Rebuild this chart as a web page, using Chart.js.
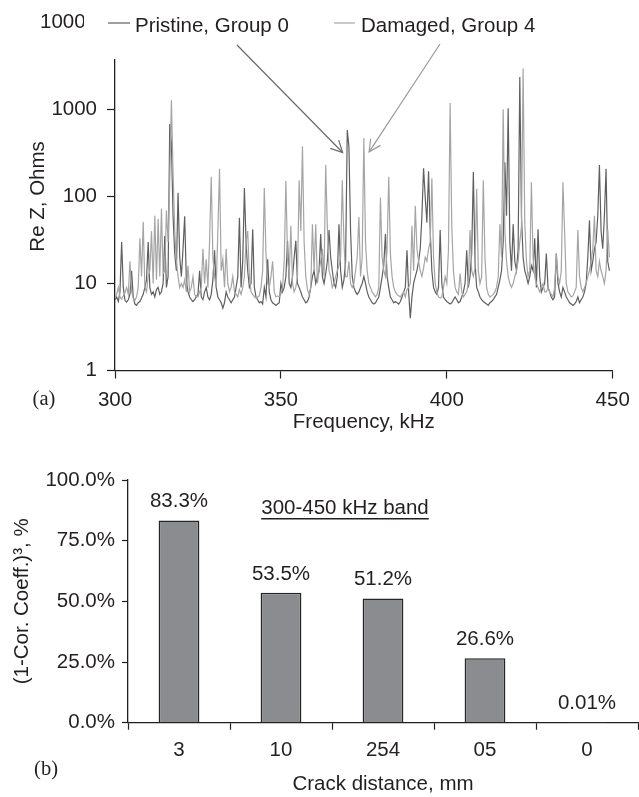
<!DOCTYPE html>
<html>
<head>
<meta charset="utf-8">
<script src="https://cdn.jsdelivr.net/npm/chart.js@4.4.1/dist/chart.umd.min.js"></script>
<style>
  html, body { margin: 0; padding: 0; background: #fff; }
  #wrap { position: relative; width: 639px; height: 797px; overflow: hidden; }
  #spectrum { position: absolute; left: 0; top: 0; }
  #corr { position: absolute; left: 0; top: 445px; }
</style>
</head>
<body>
<div id="wrap">
  <canvas id="spectrum" width="639" height="445"></canvas>
  <canvas id="corr" width="639" height="352"></canvas>
</div>
<script>
// ---- (a) Real part of impedance, 300-450 kHz, sampled every 0.5 kHz ----
const freqStartKHz = 300;
const freqStepKHz = 0.5;

const pristineGroup0 = [
  6.5, 7, 6.2, 8, 30, 9, 6.4, 6.1, 6.5, 7.5,          // 300
  14, 7, 5.8, 5.6, 6.0, 6.2, 6.8, 7.5, 9, 11,         // 305
  30, 9, 7.5, 8, 7, 8.5, 9, 7.5, 8, 10,               // 310
  35, 9, 12, 680, 415, 60, 22, 14, 110, 20,           // 315
  12, 25, 59, 11, 8, 7, 6.5, 6.2, 6.5, 7,             // 320
  7.5, 14, 7, 6.5, 8, 9, 7, 6.5, 7.5, 11,             // 325
  24, 9, 7, 6.5, 6, 5.2, 6, 8, 7, 6.5,                // 330
  6, 6.5, 7, 9, 12, 57, 9, 18, 125, 30,               // 335
  14, 9, 10, 42, 9, 7, 6.5, 6, 6.2, 5.8,              // 340
  9, 7, 19, 8, 6.5, 6, 5.8, 5.6, 5.8, 6,              // 345
  10, 8, 9, 12, 31, 10, 9, 12, 20, 31,                // 350
  10, 9, 8, 7, 6.5, 6, 6.2, 7, 9, 12,                 // 355
  14, 10, 12, 14, 37, 12, 10, 13, 18, 41,             // 360
  20, 14, 10, 9, 12, 48, 14, 9, 11, 18,               // 365
  580, 376, 40, 12, 9, 8, 7.5, 8, 9, 10,              // 370
  12, 10, 8, 7, 6.5, 6, 5.8, 6, 6.5, 7,               // 375
  9, 12, 16, 37, 12, 9, 7, 6.5, 6, 6.2,               // 380
  6, 5.8, 6.2, 7, 8, 9, 24, 8, 4.0, 7,                // 385
  10, 12, 14, 18, 25, 60, 211, 97, 50, 195,           // 390
  40, 14, 9, 8, 7.5, 9, 41, 10, 7, 6.5,               // 395
  6.2, 6, 5.8, 6, 6.5, 7, 6.5, 6, 6.2, 7,             // 400
  8, 10, 24, 9, 12, 22, 190, 18, 9, 8,                // 405
  7, 6.5, 6.2, 6, 5.8, 5.6, 6, 6.2, 6.5, 7,           // 410
  7.5, 9, 11, 14, 30, 246, 60, 1030, 30, 14,          // 415
  48, 18, 14, 25, 2350, 60, 20, 14, 12, 10,           // 420
  12, 16, 14, 33, 9, 42, 12, 8, 9, 10,                // 425
  22, 9, 8, 7, 6.5, 7, 22, 10, 8, 7,                  // 430
  9, 8, 7, 6.5, 6, 5.8, 5.6, 5.8, 6.2, 7,             // 435
  6, 6.5, 7, 8, 10, 20, 53, 14, 18, 25,               // 440
  30, 60, 230, 40, 25, 60, 208, 18, 14                // 445
];

const damagedGroup4 = [
  6.8, 7.5, 9, 7, 6.6, 7.2, 7.8, 9, 7.5, 18,          // 300
  8, 6.8, 6.4, 7, 9, 33, 12, 51, 9, 8,                // 305
  12, 14, 40, 10, 60, 11, 55, 12, 72, 13,             // 310
  14, 69, 30, 150, 1270, 185, 40, 18, 12, 9,          // 315
  10, 9, 11, 8, 16, 8, 9, 12, 7.5, 7,                 // 320
  7, 8, 9, 25, 10, 19, 9, 30, 168, 20,                // 325
  12, 9, 40, 208, 14, 19, 9, 25, 10, 8,               // 330
  9, 12, 8, 7.5, 7, 8.5, 7.5, 9, 12, 30,              // 335
  40, 12, 8, 7.5, 7, 6.8, 7, 7.2, 9, 14,              // 340
  125, 22, 10, 9, 12, 18, 8, 7, 7.2, 7,               // 345
  7.5, 9, 18, 150, 20, 12, 46, 10, 8, 9,              // 350
  12, 153, 40, 376, 30, 12, 8.5, 7.5, 9, 48,          // 355
  14, 48, 10, 14, 18, 25, 12, 230, 45, 14,            // 360
  12, 9, 10, 12, 14, 16, 20, 153, 30, 12,             // 365
  12, 18, 10, 9, 10, 14, 20, 58, 12, 20,              // 370
  470, 30, 14, 10, 9, 8, 7.5, 7, 7.5, 9,              // 375
  97, 20, 14, 12, 25, 168, 22, 12, 9, 8,              // 380
  7.5, 7.2, 7, 7.5, 8, 7, 8.5, 9, 10, 46,             // 385
  14, 78, 25, 18, 14, 12, 15, 20, 18, 25,             // 390
  30, 162, 20, 10, 8, 7, 6.8, 7, 9, 12,               // 395
  10, 24, 1180, 45, 14, 9, 8, 7.5, 13, 8,             // 400
  7, 7.5, 8, 10, 41, 14, 12, 15, 122, 14,             // 405
  10, 12, 153, 20, 9, 7.5, 7, 7.2, 7.5, 8,            // 410
  9, 12, 48, 20, 1000, 40, 18, 12, 10, 9,             // 415
  10, 12, 14, 18, 30, 45, 2970, 50, 18, 12,           // 420
  14, 145, 20, 12, 10, 9, 8, 9, 10, 8,                // 425
  8, 9, 8, 7.5, 7, 9, 22, 12, 10, 14,                 // 430
  145, 40, 10, 8, 7.5, 7, 7.2, 8, 9, 41,              // 435
  12, 9, 8, 9, 10, 12, 14, 18, 25, 60,                // 440
  14, 12, 18, 14, 12, 10, 14, 42, 20                  // 445
];

const freqTicks = [300, 350, 400, 450];
const ohmTicks = [1, 10, 100, 1000, 10000];

// Peaks the two call-out arrows point at (kHz, ohms)
const pristineCallout = [368.6, 319];
const damagedCallout = [376.6, 325];

// ---- (b) Correlation metric per crack distance ----
const crackDistances = ['3', '10', '254', '05', '0'];
const corrMetric = [83.3, 53.5, 51.2, 26.6, 0.01];
const pctTicks = [0, 25, 50, 75, 100];

// ---- styling ----
const FONT = "'Liberation Sans', Arial, Helvetica, sans-serif";
const SERIF = "'Liberation Serif', 'Times New Roman', serif";
const FS = 20.5;
const INK = '#231f20';
const PRISTINE_C = '#5f5f5f';
const DAMAGED_C = '#a5a5a5';

Chart.defaults.font.family = FONT;
Chart.defaults.font.size = FS;
Chart.defaults.color = INK;

const toPoints = vals => vals.map((v, i) => ({ x: freqStartKHz + i * freqStepKHz, y: v }));

function arrow(ctx, x0, y0, x1, y1, color) {
  ctx.strokeStyle = color;
  ctx.lineWidth = 1.2;
  ctx.beginPath();
  ctx.moveTo(x0, y0);
  ctx.lineTo(x1, y1);
  ctx.stroke();
  const a = Math.atan2(y1 - y0, x1 - x0), len = 13, spread = 0.47;
  ctx.beginPath();
  ctx.moveTo(x1 - len * Math.cos(a - spread), y1 - len * Math.sin(a - spread));
  ctx.lineTo(x1, y1);
  ctx.lineTo(x1 - len * Math.cos(a + spread), y1 - len * Math.sin(a + spread));
  ctx.stroke();
}

// Legend box laid over the top of the plot, with call-out arrows and panel tag
const spectrumOverlay = {
  id: 'spectrumOverlay',
  afterDraw(chart) {
    const { ctx, scales: { x, y } } = chart;
    const ds = chart.data.datasets;
    ctx.save();
    ctx.fillStyle = '#fff';
    ctx.fillRect(84, 0, 523, 59);

    ctx.font = `${FS}px ${FONT}`;
    ctx.textBaseline = 'middle';
    ctx.textAlign = 'left';
    ctx.lineWidth = 1.2;
    // pristine entry
    ctx.strokeStyle = ds[1].borderColor;
    ctx.beginPath(); ctx.moveTo(108, 23); ctx.lineTo(130, 23); ctx.stroke();
    ctx.fillStyle = INK;
    ctx.fillText(ds[1].label, 135, 26);
    // damaged entry
    ctx.strokeStyle = ds[0].borderColor;
    ctx.beginPath(); ctx.moveTo(334, 23); ctx.lineTo(355, 23); ctx.stroke();
    ctx.fillText(ds[0].label, 361, 26);

    arrow(ctx, 237, 45, x.getPixelForValue(pristineCallout[0]), y.getPixelForValue(pristineCallout[1]), '#6a6a6a');
    arrow(ctx, 440, 44, x.getPixelForValue(damagedCallout[0]), y.getPixelForValue(damagedCallout[1]), '#9a9a9a');

    ctx.font = `${FS}px ${SERIF}`;
    ctx.textAlign = 'center';
    ctx.fillStyle = INK;
    ctx.fillText('(a)', 44, 400);
    ctx.restore();
  }
};

new Chart(document.getElementById('spectrum'), {
  type: 'line',
  data: {
    datasets: [
      { label: 'Damaged, Group 4', data: toPoints(damagedGroup4), borderColor: DAMAGED_C,
        borderWidth: 1.2, pointRadius: 0, tension: 0, order: 0 },
      { label: 'Pristine, Group 0', data: toPoints(pristineGroup0), borderColor: PRISTINE_C,
        borderWidth: 1.2, pointRadius: 0, tension: 0, order: 1 }
    ]
  },
  options: {
    responsive: false,
    animation: false,
    events: [],
    layout: { padding: { left: 0, right: 26, top: 12.9, bottom: 0 } },
    plugins: { legend: { display: false }, tooltip: { enabled: false } },
    scales: {
      x: {
        type: 'linear', min: 300, max: 450,
        afterBuildTicks: s => { s.ticks = freqTicks.map(v => ({ value: v })); },
        ticks: { autoSkip: false, maxRotation: 0, padding: 9.2, color: INK, font: { size: FS } },
        grid: { drawOnChartArea: false, tickLength: 8, tickColor: INK, tickWidth: 1.2 },
        border: { color: INK, width: 1.3 },
        title: { display: true, text: 'Frequency, kHz', color: INK, font: { size: FS },
                 padding: { top: 0, bottom: 10.7 } },
        afterFit: s => { s.height = 74.5; }
      },
      y: {
        type: 'logarithmic', min: 1, max: 10000,
        afterBuildTicks: s => { s.ticks = ohmTicks.map(v => ({ value: v })); },
        ticks: { autoSkip: false, padding: 10, color: INK, font: { size: FS },
                 callback: v => String(v) },
        grid: { drawOnChartArea: false, tickLength: 8, tickColor: INK, tickWidth: 1.2 },
        border: { color: INK, width: 1.3 },
        title: { display: true, text: 'Re Z, Ohms', color: INK, font: { size: FS },
                 padding: { top: 25.7, bottom: 0 } },
        afterFit: s => { s.width = 115; }
      }
    }
  },
  plugins: [spectrumOverlay]
});

// Value labels above bars, band caption and panel tag
const corrOverlay = {
  id: 'corrOverlay',
  afterDatasetsDraw(chart) {
    const ctx = chart.ctx;
    const meta = chart.getDatasetMeta(0);
    ctx.save();
    ctx.font = `${FS}px ${FONT}`;
    ctx.fillStyle = INK;
    ctx.textAlign = 'center';
    ctx.textBaseline = 'middle';
    meta.data.forEach((bar, i) => {
      ctx.fillText(String(chart.data.datasets[0].data[i]) + '%', bar.x, bar.y - 19);
    });

    const caption = '300-450 kHz band';
    ctx.fillText(caption, 345, 63);
    const w = ctx.measureText(caption).width;
    ctx.strokeStyle = INK;
    ctx.lineWidth = 1.5;
    ctx.beginPath();
    ctx.moveTo(345 - w / 2, 73.7);
    ctx.lineTo(345 + w / 2, 73.7);
    ctx.stroke();

    ctx.font = `${FS}px ${SERIF}`;
    ctx.fillText('(b)', 46, 325);
    ctx.restore();
  }
};

new Chart(document.getElementById('corr'), {
  type: 'bar',
  data: {
    labels: crackDistances,
    datasets: [{
      data: corrMetric,
      backgroundColor: '#8b8c90',
      borderColor: '#262626',
      borderWidth: 1.5,
      barPercentage: 0.8,
      categoryPercentage: 0.5
    }]
  },
  options: {
    responsive: false,
    animation: false,
    events: [],
    layout: { padding: { left: 0, right: 1, top: 35, bottom: 0 } },
    plugins: { legend: { display: false }, tooltip: { enabled: false } },
    scales: {
      x: {
        ticks: { padding: 8, color: INK, font: { size: FS }, maxRotation: 0 },
        grid: { drawOnChartArea: false, offset: true, tickLength: 7, tickColor: INK, tickWidth: 1.2 },
        border: { color: INK, width: 1.3 },
        title: { display: true, text: 'Crack distance, mm', color: INK, font: { size: FS },
                 padding: { top: 0, bottom: 0 } },
        afterFit: s => { s.height = 74.3; }
      },
      y: {
        min: 0, max: 100,
        afterBuildTicks: s => { s.ticks = pctTicks.map(v => ({ value: v })); },
        ticks: { padding: 7, color: INK, font: { size: FS }, callback: v => v.toFixed(1) + '%' },
        grid: { drawOnChartArea: false, tickLength: 6, tickColor: INK, tickWidth: 1.2 },
        border: { color: INK, width: 1.3 },
        title: { display: true, text: '(1-Cor. Coeff.)³, %', color: INK, font: { size: FS },
                 padding: { top: 10.4, bottom: 0 } },
        afterFit: s => { s.width = 128; }
      }
    }
  },
  plugins: [corrOverlay]
});
</script>
</body>
</html>
